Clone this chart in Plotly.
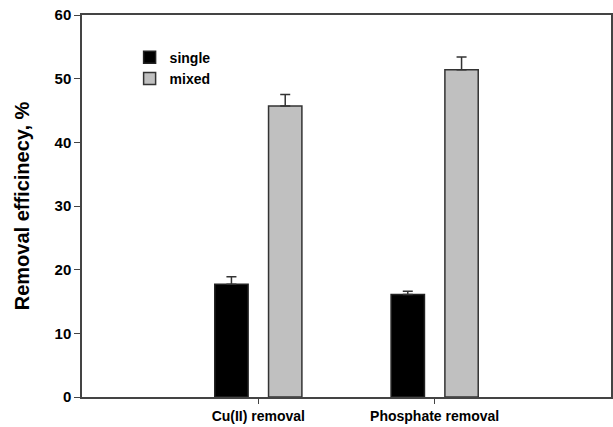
import plotly.graph_objects as go

categories = ["Cu(II) removal", "Phosphate removal"]
single_vals = [17.7, 16.1]
single_err = [1.2, 0.5]
mixed_vals = [45.7, 51.4]
mixed_err = [1.8, 2.0]
y_ticks = [0, 10, 20, 30, 40, 50, 60]

font_family = "Liberation Sans, Arial, sans-serif"

fig = go.Figure()
fig.add_trace(go.Bar(
    name="single", x=categories, y=single_vals,
    marker=dict(color="#000000", line=dict(color="#222222", width=1.5)),
    error_y=dict(type="data", array=single_err, arrayminus=[0, 0], symmetric=False,
                 color="#333333", thickness=1.5, width=5),
))
fig.add_trace(go.Bar(
    name="mixed", x=categories, y=mixed_vals,
    marker=dict(color="#c0c0c0", line=dict(color="#333333", width=1.5)),
    error_y=dict(type="data", array=mixed_err, arrayminus=[0, 0], symmetric=False,
                 color="#333333", thickness=1.5, width=5),
))

fig.update_layout(
    width=613, height=427,
    margin=dict(l=82, r=2, t=15, b=30),
    paper_bgcolor="white", plot_bgcolor="white",
    barmode="group", bargap=0.39, bargroupgap=0.38,
    font=dict(family=font_family, size=13, color="black"),
    showlegend=True,
    legend=dict(x=0.09, y=0.93, xanchor="left", yanchor="top",
                font=dict(family=font_family, size=14, color="black", weight="bold"),
                bgcolor="rgba(0,0,0,0)", tracegroupgap=0, itemwidth=30),
    xaxis=dict(
        range=[-1, 2], showgrid=False, zeroline=False, automargin=False,
        showline=True, linecolor="#444444", linewidth=1.5, mirror=True,
        ticks="outside", ticklen=5, tickcolor="#444444", tickwidth=1,
        ticklabelstandoff=0,
        tickfont=dict(family=font_family, size=14, color="black", weight="bold"),
    ),
    yaxis=dict(
        range=[0, 60], tickvals=y_ticks, showgrid=False, zeroline=False, automargin=False,
        showline=True, linecolor="#444444", linewidth=1.5, mirror=True,
        ticks="outside", ticklen=6, tickcolor="#444444", tickwidth=1,
        tickfont=dict(family=font_family, size=15, color="black", weight="bold"),
        title=dict(text="Removal efficinecy, %", standoff=20,
                   font=dict(family=font_family, size=20, color="black", weight="bold")),
    ),
)

fig.write_html("out.html")
